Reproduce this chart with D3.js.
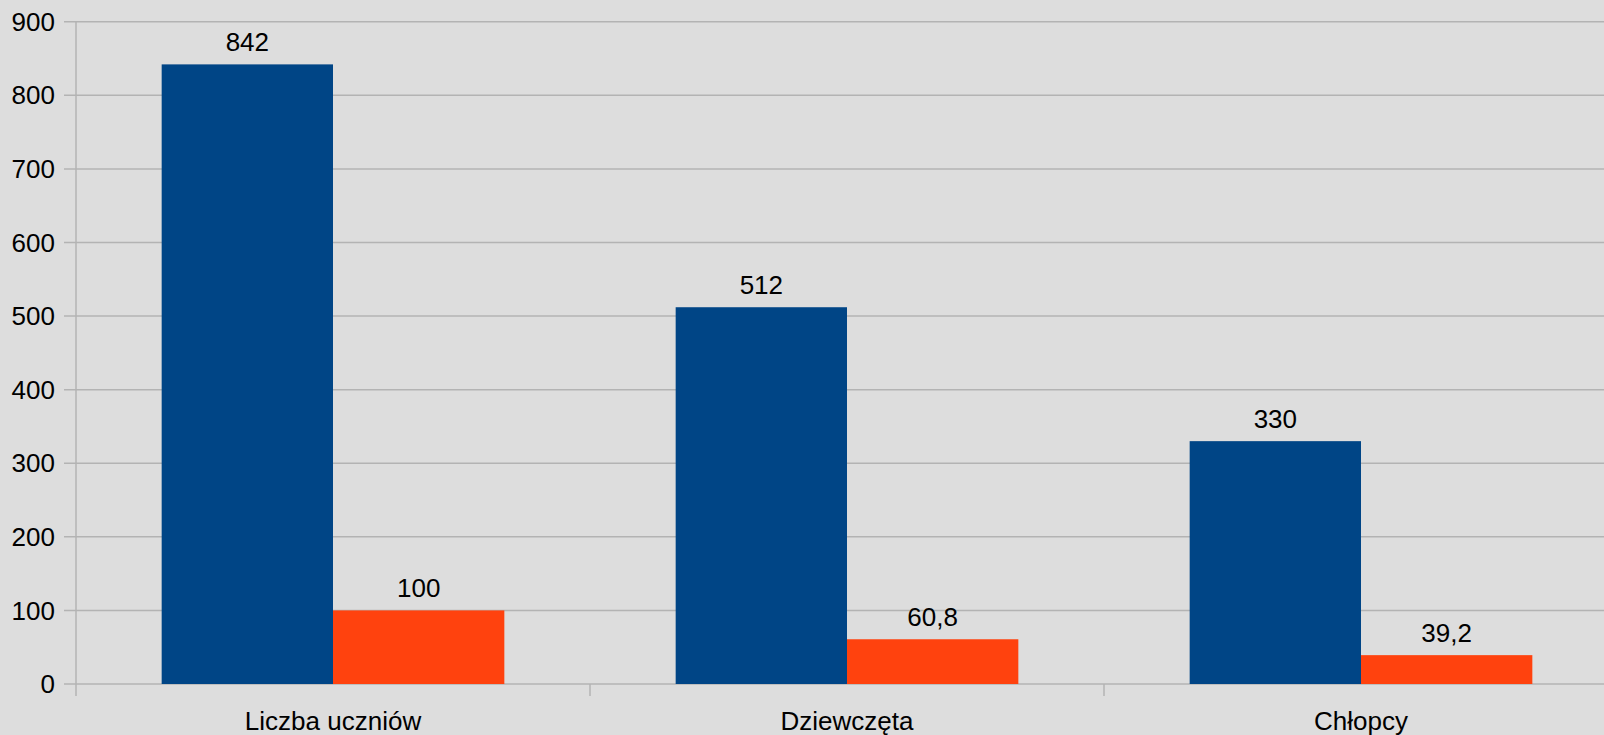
<!DOCTYPE html>
<html>
<head>
<meta charset="utf-8">
<script src="https://cdn.jsdelivr.net/npm/d3@7"></script>
<style>
  body { margin: 0; background: #dddddd; overflow: hidden; }
  text { font-family: "Liberation Sans", Arial, sans-serif; }
</style>
</head>
<body>
<div id="chart"></div>
<script>
// data
var categories = ["Liczba uczniów", "Dziewczęta", "Chłopcy"];
var seriesNames = ["liczba", "procent"];
var countValues = [842, 512, 330];
var percentValues = [100, 60.8, 39.2];
var yTicks = [0, 100, 200, 300, 400, 500, 600, 700, 800, 900];

var colors = {liczba: "#004586", procent: "#ff420e"};

var width = 1604, height = 735;
// plot area runs a bit past the right edge, as in the original
var plotLeft = 76, plotRight = 1618, plotTop = 21.7, plotBottom = 684;

var data = categories.map(function(c, i) {
  return {cat: c, liczba: countValues[i], procent: percentValues[i]};
});

var pl = d3.formatLocale({decimal: ",", thousands: " ", grouping: [3], currency: ["", " zł"]});
var fmt = function(v) { return Number.isInteger(v) ? String(v) : pl.format(".1f")(v); };

var svg = d3.select("#chart")
  .append("svg")
  .attr("width", width)
  .attr("height", height);

var x0 = d3.scaleBand()
  .domain(categories)
  .range([plotLeft, plotRight])
  .paddingInner(0)
  .paddingOuter(0);

var x1 = d3.scaleBand()
  .domain(seriesNames)
  .range([0, x0.bandwidth()])
  .paddingInner(0)
  .paddingOuter(0.5);

var y = d3.scaleLinear()
  .domain([0, 900])
  .range([plotBottom, plotTop]);

// horizontal grid + y ticks
svg.append("g")
  .selectAll("line")
  .data(yTicks)
  .join("line")
  .attr("x1", plotLeft - 12)
  .attr("x2", width)
  .attr("y1", d => y(d))
  .attr("y2", d => y(d))
  .attr("stroke", "#b3b3b3")
  .attr("stroke-width", 1.5);

// y axis line
svg.append("line")
  .attr("x1", plotLeft).attr("x2", plotLeft)
  .attr("y1", y(900)).attr("y2", plotBottom + 12)
  .attr("stroke", "#b3b3b3")
  .attr("stroke-width", 1.5);

// category tick marks at band boundaries
svg.append("g")
  .selectAll("line")
  .data(categories.slice(1))
  .join("line")
  .attr("x1", d => x0(d))
  .attr("x2", d => x0(d))
  .attr("y1", plotBottom)
  .attr("y2", plotBottom + 12)
  .attr("stroke", "#b3b3b3")
  .attr("stroke-width", 1.5);

// y tick labels
svg.append("g")
  .selectAll("text")
  .data(yTicks)
  .join("text")
  .attr("x", plotLeft - 21)
  .attr("y", d => y(d))
  .attr("dy", "0.35em")
  .attr("text-anchor", "end")
  .attr("font-size", 26)
  .attr("fill", "#000")
  .text(d => d);

// bars
var groups = svg.append("g")
  .selectAll("g")
  .data(data)
  .join("g")
  .attr("transform", d => `translate(${x0(d.cat)},0)`);

groups.selectAll("rect")
  .data(d => seriesNames.map(k => ({key: k, value: d[k]})))
  .join("rect")
  .attr("x", d => x1(d.key))
  .attr("y", d => y(d.value))
  .attr("width", x1.bandwidth())
  .attr("height", d => plotBottom - y(d.value))
  .attr("fill", d => colors[d.key]);

// value labels
groups.selectAll("text")
  .data(d => seriesNames.map(k => ({key: k, value: d[k]})))
  .join("text")
  .attr("x", d => x1(d.key) + x1.bandwidth() / 2)
  .attr("y", d => y(d.value) - 13)
  .attr("text-anchor", "middle")
  .attr("font-size", 26)
  .attr("fill", "#000")
  .text(d => fmt(d.value));

// category labels
svg.append("g")
  .selectAll("text")
  .data(categories)
  .join("text")
  .attr("x", d => x0(d) + x0.bandwidth() / 2)
  .attr("y", 730)
  .attr("text-anchor", "middle")
  .attr("font-size", 26)
  .attr("fill", "#000")
  .text(d => d);
</script>
</body>
</html>
